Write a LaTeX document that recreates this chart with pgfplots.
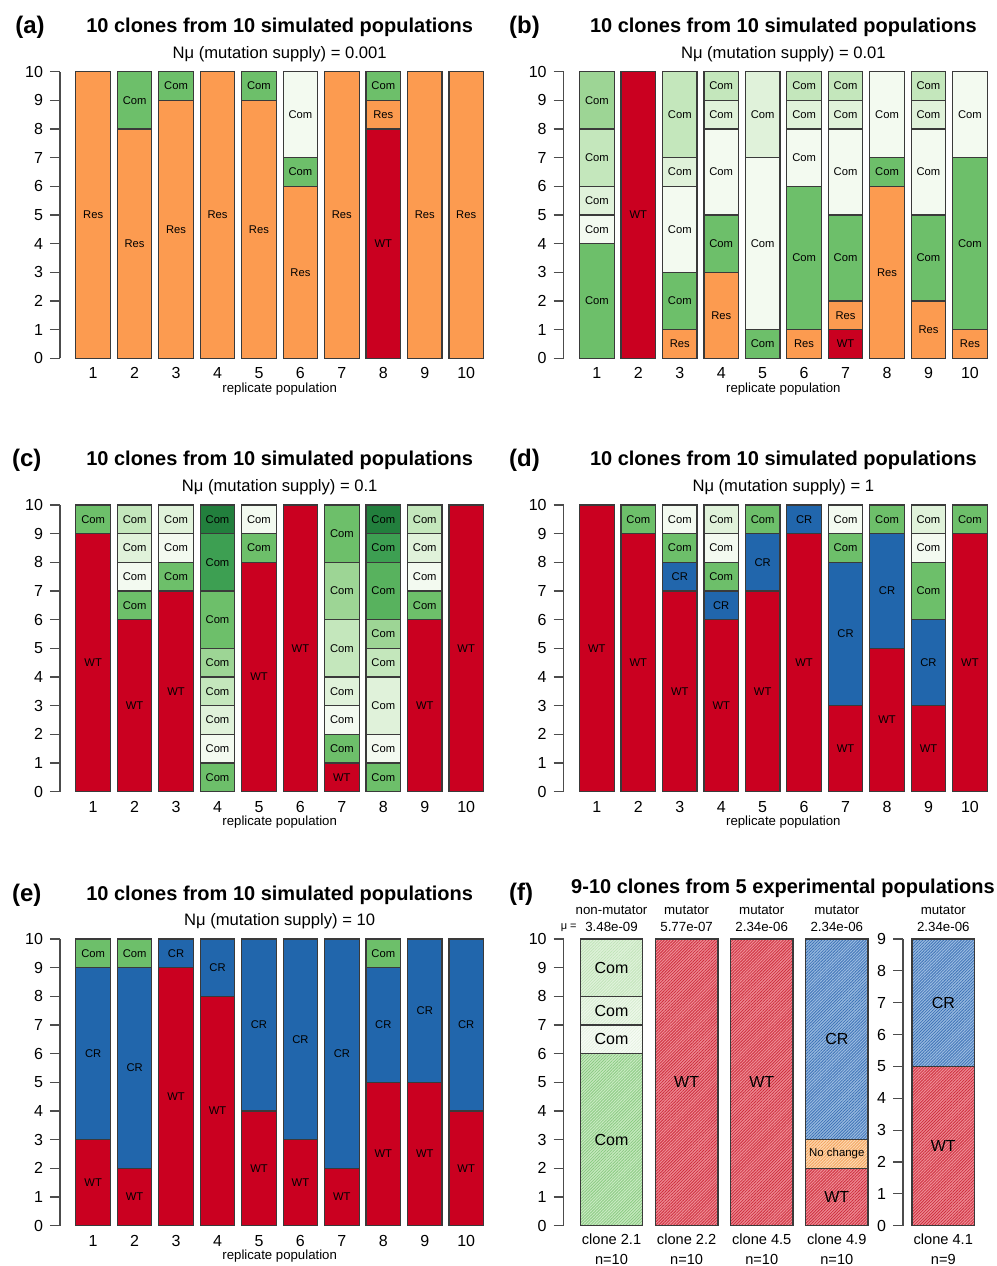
\documentclass[border=0pt]{standalone}
\usepackage{fontspec}
\setmainfont{Liberation Sans}
\usepackage{pgfplots}
\pgfplotsset{compat=1.18}
\usetikzlibrary{patterns.meta}

\definecolor{res}{HTML}{FC9B50}
\definecolor{wt}{HTML}{CA0020}
\definecolor{cr}{HTML}{2166AC}
\definecolor{gA}{HTML}{F3FAF0}
\definecolor{gB}{HTML}{E0F2DA}
\definecolor{gC}{HTML}{C4E7BC}
\definecolor{gD}{HTML}{9DD595}
\definecolor{gE}{HTML}{6DBF6A}
\definecolor{gEb}{HTML}{58B25E}
\definecolor{gF}{HTML}{3D9F52}
\definecolor{gG}{HTML}{227F3D}
\definecolor{edge}{HTML}{3A3A3A}
\definecolor{fwtfill}{HTML}{EE8C94}
\definecolor{fwtline}{HTML}{CF2F3F}
\definecolor{fcrfill}{HTML}{9ABBE0}
\definecolor{fcrline}{HTML}{3F74B8}
\definecolor{fncfill}{HTML}{FED9B2}
\definecolor{fncline}{HTML}{F2A35E}
\definecolor{fgEfill}{HTML}{C8EAC1}
\definecolor{fgEline}{HTML}{8CCB84}
\definecolor{fgAfill}{HTML}{F8FCF6}
\definecolor{fgAline}{HTML}{E6F3E2}
\definecolor{fgBfill}{HTML}{EEF8EB}
\definecolor{fgBline}{HTML}{D6EDD0}
\definecolor{fgCfill}{HTML}{E0F3DB}
\definecolor{fgCline}{HTML}{C2E4BA}

\tikzset{
  sRes/.style={fill=res}, sWT/.style={fill=wt}, sCR/.style={fill=cr},
  sA/.style={fill=gA}, sB/.style={fill=gB}, sC/.style={fill=gC}, sD/.style={fill=gD},
  sE/.style={fill=gE}, sEb/.style={fill=gEb}, sF/.style={fill=gF}, sG/.style={fill=gG},
  segline/.style={draw=edge, line width=0.6pt},
  seglab/.style={font=\fontsize{5.6}{6}\selectfont, inner sep=0pt, anchor=center},
  flab/.style={font=\fontsize{8}{9}\selectfont, inner sep=0pt, anchor=center},
  fsmall/.style={font=\fontsize{5.7}{6}\selectfont, inner sep=0pt, anchor=center},
  ttl/.style={font=\bfseries\fontsize{10}{12}\selectfont, anchor=base, inner sep=0pt},
  sub/.style={font=\fontsize{8.3}{10}\selectfont, anchor=base, inner sep=0pt},
  xlab/.style={font=\fontsize{6.6}{8}\selectfont, anchor=base, inner sep=0pt},
  plab/.style={font=\bfseries\fontsize{12}{14}\selectfont, anchor=base west, inner sep=0pt},
  fann/.style={font=\fontsize{6.65}{8}\selectfont, anchor=base, inner sep=0pt},
  fbot/.style={font=\fontsize{7.3}{9}\selectfont, anchor=base, inner sep=0pt},
}

% segment: [label style]{x}{y0}{y1}{fill style}{label}
\newcommand{\seg}[6][seglab]{%
  \pgfmathsetmacro\xl{#2-0.41667}%
  \pgfmathsetmacro\xr{#2+0.41667}%
  \pgfmathsetmacro\ym{(#3+#4)/2}%
  \edef\segtmp{\noexpand\addplot[segline,#5] coordinates {(\xl,#3) (\xl,#4) (\xr,#4) (\xr,#3)} -- cycle;%
    \noexpand\node[#1] at (axis cs:#2,\ym) {\unexpanded{#6}};}%
  \segtmp}

% hatched segment: [label style]{x}{y0}{y1}{fill colour}{line colour}{label}
\newcommand{\segh}[7][flab]{%
  \pgfmathsetmacro\xl{#2-0.41667}%
  \pgfmathsetmacro\xr{#2+0.41667}%
  \pgfmathsetmacro\ym{(#3+#4)/2}%
  \edef\segtmp{%
    \noexpand\addplot[draw=none, fill=#5] coordinates {(\xl,#3) (\xl,#4) (\xr,#4) (\xr,#3)} -- cycle;%
    \noexpand\addplot[segline, pattern={Lines[angle=45,distance=1.05pt,line width=0.4pt]}, pattern color=#6] coordinates {(\xl,#3) (\xl,#4) (\xr,#4) (\xr,#3)} -- cycle;%
    \noexpand\node[#1] at (axis cs:#2,\ym) {\unexpanded{#7}};}%
  \segtmp}

\newcommand{\ptitles}[1]{%
  \node[ttl,yshift=19.5pt] at (axis cs:5.5,10) {10 clones from 10 simulated populations};
  \node[sub,yshift=6.65pt] at (axis cs:5.5,10) {Nμ (mutation supply) = #1};
  \node[xlab,yshift=-17pt] at (axis cs:5.5,0) {replicate population};}

\pgfplotsset{
  base/.style={
    scale only axis, height=143.35pt, ymin=0, ymax=10,
    anchor=south west,
    axis x line=bottom, axis y line=left,
    axis line style={-, line width=0.6pt, draw=black!70},
    y axis line style={-},
    x axis line style={draw=none},
    xtick style={draw=none},
    ytick style={line width=0.6pt, draw=black!70},
    tick align=outside, major tick length=5pt,
    clip=false,
    tick label style={font=\fontsize{8}{9}\selectfont},
    xticklabel style={anchor=base, yshift=-5.2pt},
    /pgf/number format/assume math mode=true,
  },
  panel/.style={base, width=211.74pt, xmin=0.2, xmax=10.4167,
    xtick={1,...,10}, ytick={0,...,10}},
}

\begin{document}
\begin{tikzpicture}
\path[use as bounding box] (0,0) rectangle (498.5pt,633pt);

% ---------------- (a)
\begin{axis}[panel, at={(30pt,453.85pt)}]
\seg{1}{0}{10}{sRes}{Res}
\seg{2}{0}{8}{sRes}{Res}
\seg{2}{8}{10}{sE}{Com}
\seg{3}{0}{9}{sRes}{Res}
\seg{3}{9}{10}{sE}{Com}
\seg{4}{0}{10}{sRes}{Res}
\seg{5}{0}{9}{sRes}{Res}
\seg{5}{9}{10}{sE}{Com}
\seg{6}{0}{6}{sRes}{Res}
\seg{6}{6}{7}{sE}{Com}
\seg{6}{7}{10}{sA}{Com}
\seg{7}{0}{10}{sRes}{Res}
\seg{8}{0}{8}{sWT}{WT}
\seg{8}{8}{9}{sRes}{Res}
\seg{8}{9}{10}{sE}{Com}
\seg{9}{0}{10}{sRes}{Res}
\seg{10}{0}{10}{sRes}{Res}
\ptitles{0.001}
\end{axis}

% ---------------- (b)
\begin{axis}[panel, at={(281.85pt,453.85pt)}]
\seg{1}{0}{4}{sE}{Com}
\seg{1}{4}{5}{sA}{Com}
\seg{1}{5}{6}{sB}{Com}
\seg{1}{6}{8}{sC}{Com}
\seg{1}{8}{10}{sD}{Com}
\seg{2}{0}{10}{sWT}{WT}
\seg{3}{0}{1}{sRes}{Res}
\seg{3}{1}{3}{sE}{Com}
\seg{3}{3}{6}{sA}{Com}
\seg{3}{6}{7}{sB}{Com}
\seg{3}{7}{10}{sC}{Com}
\seg{4}{0}{3}{sRes}{Res}
\seg{4}{3}{5}{sE}{Com}
\seg{4}{5}{8}{sA}{Com}
\seg{4}{8}{9}{sB}{Com}
\seg{4}{9}{10}{sC}{Com}
\seg{5}{0}{1}{sE}{Com}
\seg{5}{1}{7}{sA}{Com}
\seg{5}{7}{10}{sB}{Com}
\seg{6}{0}{1}{sRes}{Res}
\seg{6}{1}{6}{sE}{Com}
\seg{6}{6}{8}{sA}{Com}
\seg{6}{8}{9}{sB}{Com}
\seg{6}{9}{10}{sC}{Com}
\seg{7}{0}{1}{sWT}{WT}
\seg{7}{1}{2}{sRes}{Res}
\seg{7}{2}{5}{sE}{Com}
\seg{7}{5}{8}{sA}{Com}
\seg{7}{8}{9}{sB}{Com}
\seg{7}{9}{10}{sC}{Com}
\seg{8}{0}{6}{sRes}{Res}
\seg{8}{6}{7}{sE}{Com}
\seg{8}{7}{10}{sA}{Com}
\seg{9}{0}{2}{sRes}{Res}
\seg{9}{2}{5}{sE}{Com}
\seg{9}{5}{8}{sA}{Com}
\seg{9}{8}{9}{sB}{Com}
\seg{9}{9}{10}{sC}{Com}
\seg{10}{0}{1}{sRes}{Res}
\seg{10}{1}{7}{sE}{Com}
\seg{10}{7}{10}{sA}{Com}
\ptitles{0.01}
\end{axis}

% ---------------- (c)
\begin{axis}[panel, at={(30pt,237.15pt)}]
\seg{1}{0}{9}{sWT}{WT}
\seg{1}{9}{10}{sE}{Com}
\seg{2}{0}{6}{sWT}{WT}
\seg{2}{6}{7}{sE}{Com}
\seg{2}{7}{8}{sA}{Com}
\seg{2}{8}{9}{sB}{Com}
\seg{2}{9}{10}{sC}{Com}
\seg{3}{0}{7}{sWT}{WT}
\seg{3}{7}{8}{sE}{Com}
\seg{3}{8}{9}{sA}{Com}
\seg{3}{9}{10}{sB}{Com}
\seg{4}{0}{1}{sE}{Com}
\seg{4}{1}{2}{sA}{Com}
\seg{4}{2}{3}{sB}{Com}
\seg{4}{3}{4}{sC}{Com}
\seg{4}{4}{5}{sD}{Com}
\seg{4}{5}{7}{sE}{Com}
\seg{4}{7}{9}{sF}{Com}
\seg{4}{9}{10}{sG}{Com}
\seg{5}{0}{8}{sWT}{WT}
\seg{5}{8}{9}{sE}{Com}
\seg{5}{9}{10}{sA}{Com}
\seg{6}{0}{10}{sWT}{WT}
\seg{7}{0}{1}{sWT}{WT}
\seg{7}{1}{2}{sE}{Com}
\seg{7}{2}{3}{sA}{Com}
\seg{7}{3}{4}{sB}{Com}
\seg{7}{4}{6}{sC}{Com}
\seg{7}{6}{8}{sD}{Com}
\seg{7}{8}{10}{sE}{Com}
\seg{8}{0}{1}{sE}{Com}
\seg{8}{1}{2}{sA}{Com}
\seg{8}{2}{4}{sB}{Com}
\seg{8}{4}{5}{sC}{Com}
\seg{8}{5}{6}{sD}{Com}
\seg{8}{6}{8}{sEb}{Com}
\seg{8}{8}{9}{sF}{Com}
\seg{8}{9}{10}{sG}{Com}
\seg{9}{0}{6}{sWT}{WT}
\seg{9}{6}{7}{sE}{Com}
\seg{9}{7}{8}{sA}{Com}
\seg{9}{8}{9}{sB}{Com}
\seg{9}{9}{10}{sC}{Com}
\seg{10}{0}{10}{sWT}{WT}
\ptitles{0.1}
\end{axis}

% ---------------- (d)
\begin{axis}[panel, at={(281.85pt,237.15pt)}]
\seg{1}{0}{10}{sWT}{WT}
\seg{2}{0}{9}{sWT}{WT}
\seg{2}{9}{10}{sE}{Com}
\seg{3}{0}{7}{sWT}{WT}
\seg{3}{7}{8}{sCR}{CR}
\seg{3}{8}{9}{sE}{Com}
\seg{3}{9}{10}{sA}{Com}
\seg{4}{0}{6}{sWT}{WT}
\seg{4}{6}{7}{sCR}{CR}
\seg{4}{7}{8}{sE}{Com}
\seg{4}{8}{9}{sA}{Com}
\seg{4}{9}{10}{sB}{Com}
\seg{5}{0}{7}{sWT}{WT}
\seg{5}{7}{9}{sCR}{CR}
\seg{5}{9}{10}{sE}{Com}
\seg{6}{0}{9}{sWT}{WT}
\seg{6}{9}{10}{sCR}{CR}
\seg{7}{0}{3}{sWT}{WT}
\seg{7}{3}{8}{sCR}{CR}
\seg{7}{8}{9}{sE}{Com}
\seg{7}{9}{10}{sA}{Com}
\seg{8}{0}{5}{sWT}{WT}
\seg{8}{5}{9}{sCR}{CR}
\seg{8}{9}{10}{sE}{Com}
\seg{9}{0}{3}{sWT}{WT}
\seg{9}{3}{6}{sCR}{CR}
\seg{9}{6}{8}{sE}{Com}
\seg{9}{8}{9}{sA}{Com}
\seg{9}{9}{10}{sB}{Com}
\seg{10}{0}{9}{sWT}{WT}
\seg{10}{9}{10}{sE}{Com}
\ptitles{1}
\end{axis}

% ---------------- (e)
\begin{axis}[panel, at={(30pt,20.15pt)}]
\seg{1}{0}{3}{sWT}{WT}
\seg{1}{3}{9}{sCR}{CR}
\seg{1}{9}{10}{sE}{Com}
\seg{2}{0}{2}{sWT}{WT}
\seg{2}{2}{9}{sCR}{CR}
\seg{2}{9}{10}{sE}{Com}
\seg{3}{0}{9}{sWT}{WT}
\seg{3}{9}{10}{sCR}{CR}
\seg{4}{0}{8}{sWT}{WT}
\seg{4}{8}{10}{sCR}{CR}
\seg{5}{0}{4}{sWT}{WT}
\seg{5}{4}{10}{sCR}{CR}
\seg{6}{0}{3}{sWT}{WT}
\seg{6}{3}{10}{sCR}{CR}
\seg{7}{0}{2}{sWT}{WT}
\seg{7}{2}{10}{sCR}{CR}
\seg{8}{0}{5}{sWT}{WT}
\seg{8}{5}{9}{sCR}{CR}
\seg{8}{9}{10}{sE}{Com}
\seg{9}{0}{5}{sWT}{WT}
\seg{9}{5}{10}{sCR}{CR}
\seg{10}{0}{4}{sWT}{WT}
\seg{10}{4}{10}{sCR}{CR}
\ptitles{10}
\end{axis}

% ---------------- (f) left
\begin{axis}[base, at={(281.85pt,20.15pt)}, width=152.2pt,
  xmin=0.363, xmax=4.4167, xtick=\empty, ytick={0,...,10}]
\segh{1}{0}{6}{fgEfill}{fgEline}{Com}
\segh{1}{6}{7}{fgAfill}{fgAline}{Com}
\segh{1}{7}{8}{fgBfill}{fgBline}{Com}
\segh{1}{8}{10}{fgCfill}{fgCline}{Com}
\segh{2}{0}{10}{fwtfill}{fwtline}{WT}
\segh{3}{0}{10}{fwtfill}{fwtline}{WT}
\segh{4}{0}{2}{fwtfill}{fwtline}{WT}
\segh[fsmall]{4}{2}{3}{fncfill}{fncline}{No change}
\segh{4}{3}{10}{fcrfill}{fcrline}{CR}
\node[ttl,yshift=22.65pt] at (axis cs:3.283,10) {9-10 clones from 5 experimental populations};
\node[fann,yshift=12.5pt] at (axis cs:1,10) {non-mutator};
\node[fann,yshift=12.5pt] at (axis cs:2,10) {mutator};
\node[fann,yshift=12.5pt] at (axis cs:3,10) {mutator};
\node[fann,yshift=12.5pt] at (axis cs:4,10) {mutator};
\node[fann,yshift=3.8pt] at (axis cs:1,10) {3.48e-09};
\node[fann,yshift=3.8pt] at (axis cs:2,10) {5.77e-07};
\node[fann,yshift=3.8pt] at (axis cs:3,10) {2.34e-06};
\node[fann,yshift=3.8pt] at (axis cs:4,10) {2.34e-06};
\node[fbot,yshift=-9.65pt] at (axis cs:1,0) {clone 2.1};
\node[fbot,yshift=-9.65pt] at (axis cs:2,0) {clone 2.2};
\node[fbot,yshift=-9.65pt] at (axis cs:3,0) {clone 4.5};
\node[fbot,yshift=-9.65pt] at (axis cs:4,0) {clone 4.9};
\node[fbot,yshift=-19.3pt] at (axis cs:1,0) {n=10};
\node[fbot,yshift=-19.3pt] at (axis cs:2,0) {n=10};
\node[fbot,yshift=-19.3pt] at (axis cs:3,0) {n=10};
\node[fbot,yshift=-19.3pt] at (axis cs:4,0) {n=10};
\end{axis}

% ---------------- (f) right
\begin{axis}[base, at={(451.5pt,20.15pt)}, width=35.8pt,
  xmin=0.463, xmax=1.4167, ymax=9, xtick=\empty, ytick={0,...,9}]
\segh{1}{0}{5}{fwtfill}{fwtline}{WT}
\segh{1}{5}{9}{fcrfill}{fcrline}{CR}
\node[fann,yshift=12.5pt] at (axis cs:1,9) {mutator};
\node[fann,yshift=3.8pt] at (axis cs:1,9) {2.34e-06};
\node[fbot,yshift=-9.65pt] at (axis cs:1,0) {clone 4.1};
\node[fbot,yshift=-19.3pt] at (axis cs:1,0) {n=9};
\end{axis}

\node[font=\fontsize{5.5}{6}\selectfont, anchor=base east, inner sep=0pt] at (288.5pt,168pt) {μ =};

\node[plab] at (7.5pt,616.35pt) {(a)};
\node[plab] at (254.35pt,616.35pt) {(b)};
\node[plab] at (5.85pt,399.65pt) {(c)};
\node[plab] at (254.35pt,399.65pt) {(d)};
\node[plab] at (5.85pt,182.15pt) {(e)};
\node[plab] at (254.35pt,182.75pt) {(f)};
\end{tikzpicture}
\end{document}
